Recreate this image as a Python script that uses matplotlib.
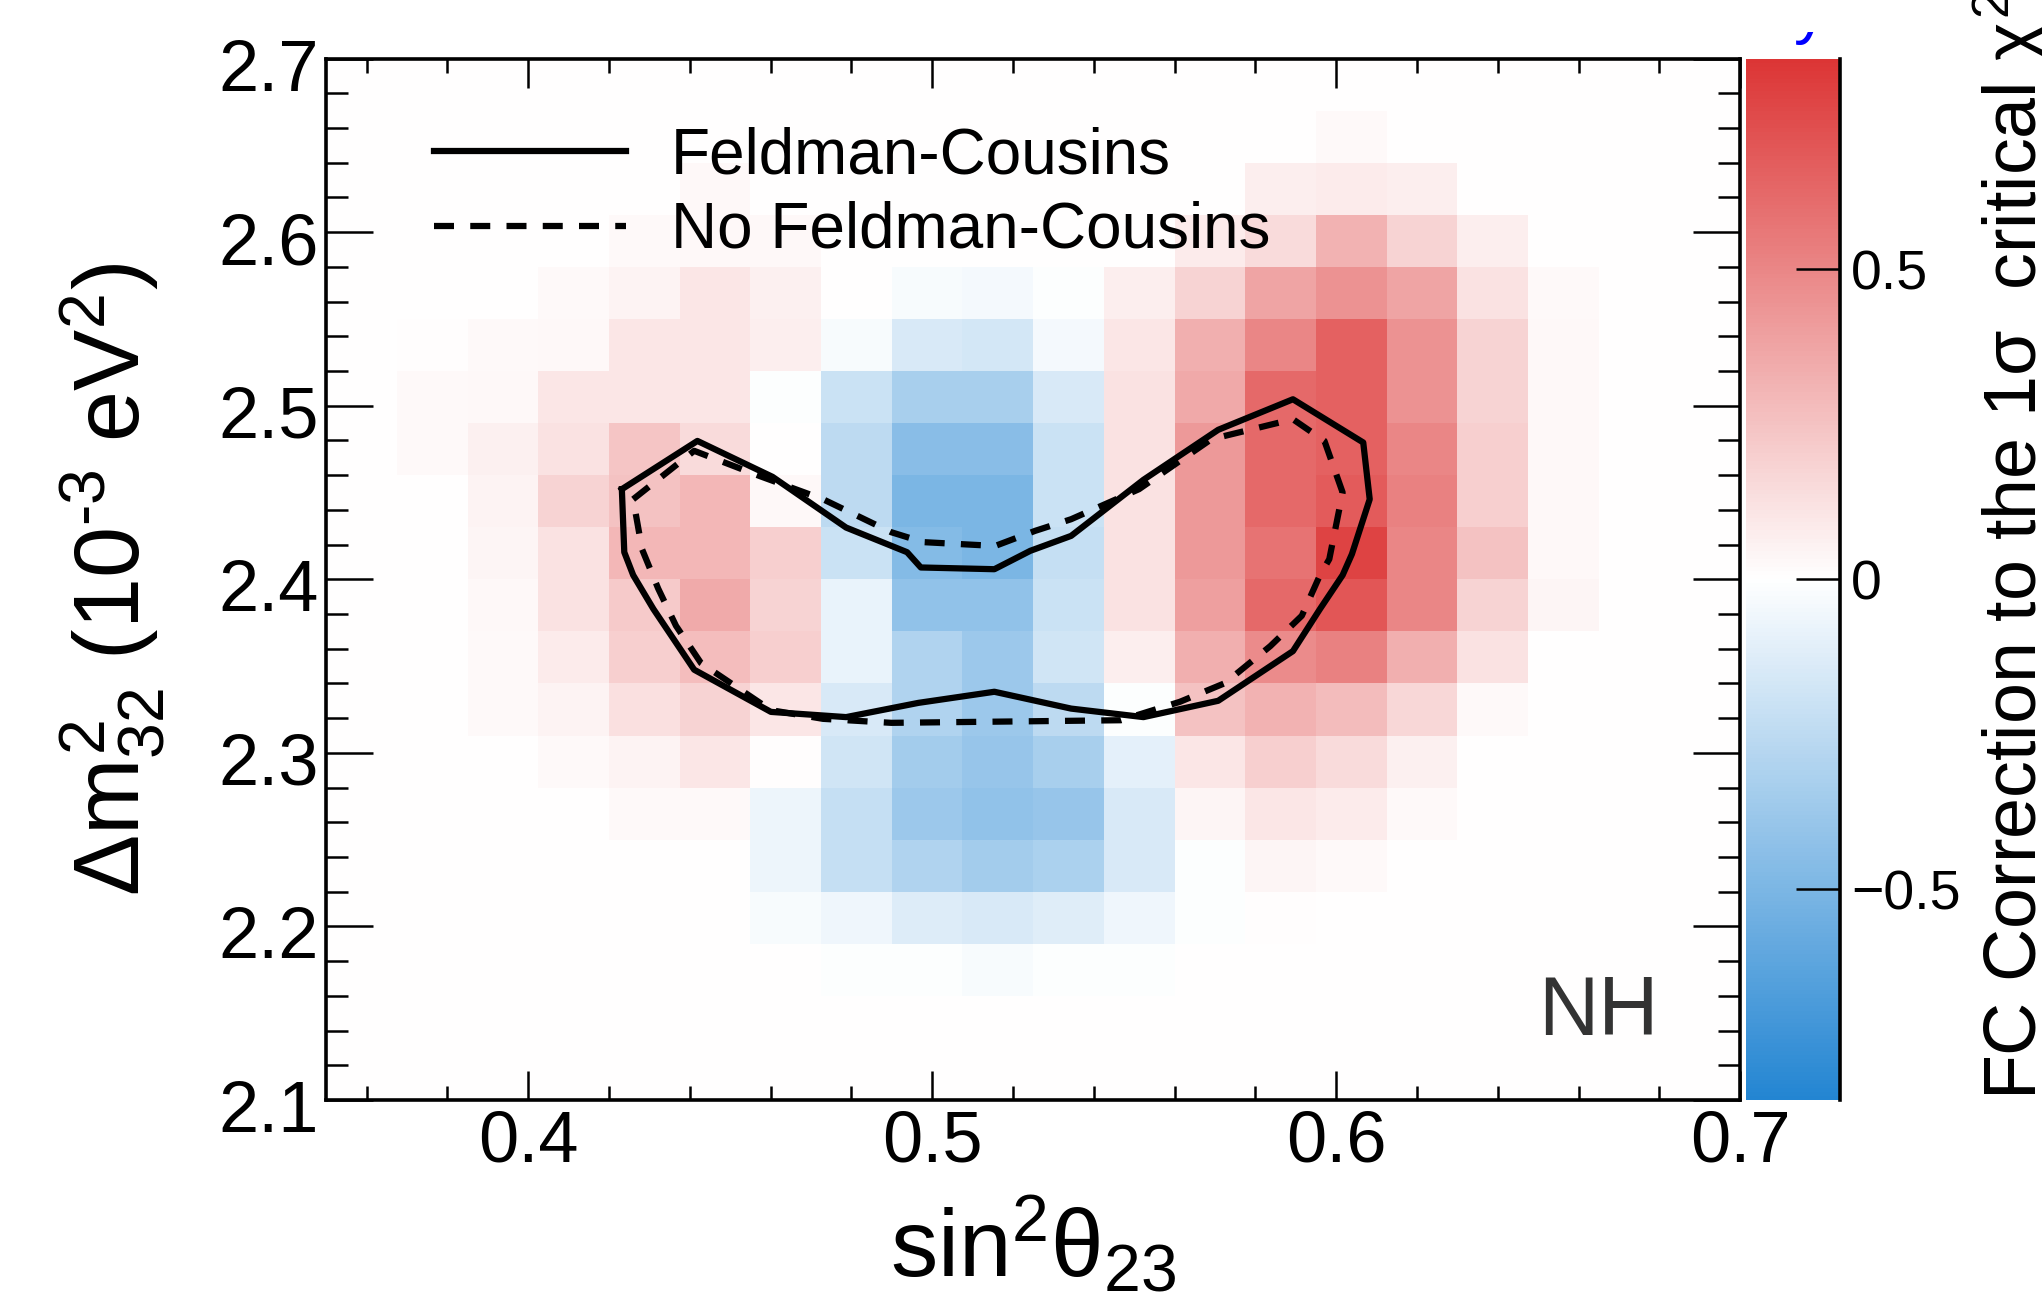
import numpy as np
import matplotlib.pyplot as plt
from matplotlib.colors import LinearSegmentedColormap
from matplotlib.lines import Line2D
from matplotlib.patches import Rectangle
from matplotlib.ticker import FixedLocator, MultipleLocator, FormatStrFormatter
from matplotlib.transforms import ScaledTranslation

plt.rcParams['font.family'] = ['Liberation Sans', 'DejaVu Sans']
plt.rcParams['mathtext.fontset'] = 'custom'
plt.rcParams['mathtext.rm'] = 'Liberation Sans'
plt.rcParams['mathtext.it'] = 'Liberation Sans'
plt.rcParams['mathtext.bf'] = 'Liberation Sans:bold'

# binning of the FC correction histogram
sin2_edges = np.linspace(0.35, 0.70, 21)
dm2_edges = np.linspace(2.10, 2.70, 21)

# FC correction per bin, rows from top (dm2 = 2.70) down to bottom (dm2 = 2.10)
fc_corr = [
    [0, 0, 0, 0, 0, 0, 0, 0, 0, 0, 0, 0, 0, 0, 0, 0, 0, 0, 0, 0],
    [0, 0, 0, 0, 0, 0, 0, 0, 0, 0, 0, 0, 0, 0, .02, 0, 0, 0, 0, 0],
    [0, 0, 0, 0, 0, .03, 0, 0, 0, 0, 0, 0, 0, .07, .08, .07, 0, 0, 0, 0],
    [0, 0, 0, 0, .02, .03, .03, 0, 0, 0, 0, 0, .08, .15, .32, .18, .07, 0, 0, 0],
    [0, 0, 0, .02, .05, .10, .06, 0, -.03, -.04, -.01, .07, .18, .38, .45, .38, .12, .02, 0, 0],
    [0, .01, .02, .03, .10, .10, .07, -.03, -.15, -.17, -.04, .10, .33, .50, .65, .45, .18, .03, 0, 0],
    [0, .02, .03, .10, .10, .10, -.01, -.20, -.33, -.33, -.15, .12, .36, .62, .65, .45, .18, .03, 0, 0],
    [0, .02, .06, .12, .24, .15, 0, -.25, -.45, -.45, -.20, .12, .42, .62, .65, .50, .20, .03, 0, 0],
    [0, .005, .05, .18, .25, .30, .03, -.25, -.50, -.50, -.20, .12, .42, .62, .68, .52, .20, .03, 0, 0],
    [0, 0, .04, .12, .30, .30, .20, -.20, -.47, -.50, -.22, .12, .42, .58, .78, .50, .25, .03, 0, 0],
    [0, 0, .03, .12, .22, .35, .18, -.08, -.42, -.42, -.20, .12, .40, .62, .70, .50, .18, .04, 0, 0],
    [0, 0, .02, .08, .20, .27, .20, -.08, -.30, -.38, -.18, .07, .33, .48, .52, .33, .12, 0, 0, 0],
    [0, 0, .02, .05, .13, .18, .10, -.15, -.30, -.38, -.25, -.01, .25, .32, .28, .17, .02, 0, 0, 0],
    [0, 0, 0, .02, .05, .10, .01, -.18, -.35, -.40, -.33, -.10, .10, .20, .15, .06, 0, 0, 0, 0],
    [0, 0, 0, 0, .02, .02, -.07, -.22, -.38, -.42, -.40, -.15, .04, .10, .08, .02, 0, 0, 0, 0],
    [0, 0, 0, 0, 0, 0, -.07, -.22, -.30, -.35, -.32, -.15, -.01, .04, .02, 0, 0, 0, 0, 0],
    [0, 0, 0, 0, 0, 0, -.03, -.06, -.13, -.15, -.12, -.06, -.01, .01, 0, 0, 0, 0, 0, 0],
    [0, 0, 0, 0, 0, 0, 0, -.01, -.01, -.03, -.01, -.01, 0, 0, 0, 0, 0, 0, 0, 0],
    [0, 0, 0, 0, 0, 0, 0, 0, 0, 0, 0, 0, 0, 0, 0, 0, 0, 0, 0, 0],
    [0, 0, 0, 0, 0, 0, 0, 0, 0, 0, 0, 0, 0, 0, 0, 0, 0, 0, 0, 0],
]

# 1 sigma contours
fc_sin2 = [0.4232, 0.4419, 0.4605, 0.4787, 0.4938, 0.4972, 0.5154, 0.5243, 0.5344, 0.5523,
           0.5708, 0.5893, 0.6067, 0.6083, 0.6039, 0.6016, 0.5960, 0.5893, 0.5708, 0.5523,
           0.5344, 0.5154, 0.4966, 0.4787, 0.4601, 0.4411, 0.4310, 0.4260, 0.4238, 0.4232]
fc_dm2 = [2.4519, 2.4797, 2.4590, 2.4298, 2.4156, 2.4068, 2.4058, 2.4164, 2.4250, 2.4573,
          2.4861, 2.5037, 2.4788, 2.4461, 2.4145, 2.4024, 2.3829, 2.3586, 2.3300, 2.3206,
          2.3255, 2.3352, 2.3288, 2.3206, 2.3236, 2.3479, 2.3829, 2.4024, 2.4156, 2.4519]

nofc_sin2 = [0.4260, 0.4411, 0.4574, 0.4730, 0.4899, 0.4978, 0.5156, 0.5255, 0.5344, 0.5512,
             0.5691, 0.5893, 0.5971, 0.6016, 0.5983, 0.5960, 0.5915, 0.5837, 0.5725, 0.5613,
             0.5467, 0.5243, 0.4899, 0.4730, 0.4601, 0.4428, 0.4366, 0.4322, 0.4282, 0.4260]
nofc_dm2 = [2.4461, 2.4740, 2.4594, 2.4461, 2.4271, 2.4214, 2.4192, 2.4279, 2.4346, 2.4519,
            2.4807, 2.4922, 2.4797, 2.4500, 2.4116, 2.4024, 2.3790, 2.3615, 2.3402, 2.3294,
            2.3188, 2.3182, 2.3173, 2.3196, 2.3246, 2.3517, 2.3732, 2.3946, 2.4173, 2.4461]

cbar_ticks = [-0.5, 0, 0.5]
cbar_labels = ['\u22120.5', '0', '0.5']

cmap = LinearSegmentedColormap.from_list(
    'fc', [(0.0, '#2385d2'), (0.5, '#ffffff'), (1.0, '#dc3535')])

fig = plt.figure(figsize=(20.42, 13.06), dpi=100)
ax = fig.add_axes([0.1597, 0.1577, 0.6925, 0.7975])
cax = fig.add_axes([0.855, 0.1577, 0.046, 0.7975])

mesh = ax.pcolormesh(sin2_edges, dm2_edges, np.flipud(np.array(fc_corr)),
                     cmap=cmap, vmin=-0.84, vmax=0.84)

dash = (0, (3.2, 2.6))
ax.plot(fc_sin2, fc_dm2, color='k', lw=4.5)
ax.plot(nofc_sin2, nofc_dm2, color='k', lw=4.5, ls=dash)

ax.set_xlim(0.35, 0.70)
ax.set_ylim(2.10, 2.70)
ax.xaxis.set_major_locator(FixedLocator([0.4, 0.5, 0.6, 0.7]))
ax.xaxis.set_minor_locator(MultipleLocator(0.02))
ax.yaxis.set_major_locator(FixedLocator([2.1, 2.2, 2.3, 2.4, 2.5, 2.6, 2.7]))
ax.yaxis.set_minor_locator(MultipleLocator(0.02))
ax.xaxis.set_major_formatter(FormatStrFormatter('%.1f'))
ax.yaxis.set_major_formatter(FormatStrFormatter('%.1f'))

ax.tick_params(which='both', direction='in', top=True, right=True, width=1.8, labelsize=52)
ax.tick_params(axis='x', which='major', length=21, pad=7)
ax.tick_params(axis='x', which='minor', length=10)
ax.tick_params(axis='y', which='major', length=34, pad=5)
ax.tick_params(axis='y', which='minor', length=16)
for sp in ax.spines.values():
    sp.set_linewidth(2.6)
# y tick labels sit a little below their ticks in the original
shift = ScaledTranslation(0, -6 / 100, fig.dpi_scale_trans)
for lab in ax.get_yticklabels():
    lab.set_transform(lab.get_transform() + shift)

ax.set_xlabel(r'$\mathrm{sin}^{2}\theta_{23}$', fontsize=68, va='baseline')
ax.xaxis.set_label_coords(0.5, -0.17)
ax.set_ylabel(r'$\Delta m^{2}_{32}$ (10$^{\text{-}3}$ eV$^{2}$)', fontsize=66, va='baseline')
ax.yaxis.set_label_coords(-0.1315, 0.5)

handles = [Line2D([], [], color='k', lw=4.5), Line2D([], [], color='k', lw=4.5, ls=dash)]
ax.legend(handles, ['Feldman-Cousins', 'No Feldman-Cousins'], loc='upper left',
          bbox_to_anchor=(0.0765, 0.935), frameon=False, fontsize=46, handlelength=3.0,
          handletextpad=0.7, labelspacing=0.23, borderpad=0, borderaxespad=0)

ax.text(0.942, 0.062, 'NH', transform=ax.transAxes, ha='right', va='baseline',
        fontsize=60, color='#333333')

# colour scale
cb = fig.colorbar(mesh, cax=cax)
cb.outline.set_visible(False)
cax.plot([1, 1], [0, 1], transform=cax.transAxes, color='k', lw=2.6, clip_on=False)
cax.minorticks_off()
cax.yaxis.set_ticks(cbar_ticks)
cax.set_yticklabels(cbar_labels)
cax.tick_params(axis='y', direction='in', length=32, width=1.8, labelsize=40, pad=8)

fig.text(0.9975, 0.1577, r'FC Correction to the 1$\sigma$  critical $\chi^{2}$',
         rotation=90, rotation_mode='anchor', ha='left', va='baseline', fontsize=53)

# label above the frame: in the original only the tail of its last letter shows
fig.text(0.895, 1 - 31 / 1306, 'NOvA Preliminary', color='blue', fontsize=48,
         ha='right', va='baseline', zorder=1)
fig.add_artist(Rectangle((0.55, 1 - 31.5 / 1306), 0.40, 31.5 / 1306, transform=fig.transFigure,
                         facecolor='white', edgecolor='none', zorder=5))

fig.savefig('out.png', dpi=100)
